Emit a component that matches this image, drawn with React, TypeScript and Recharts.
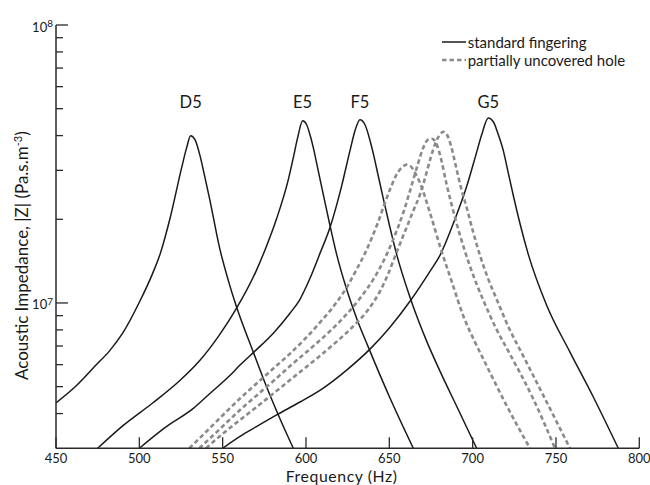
import React from 'react';
import { LineChart, Line, XAxis, YAxis, ReferenceDot, Legend } from 'recharts';

const FONT = 'Lato, "Open Sans", sans-serif';
const INK = '#1a1a1a';
const AXIS = '#2a2a2a';
const DASH_GREY = '#8a8a8a';

// ---- axes ----
const freqTicks = [450, 500, 550, 600, 650, 700, 750, 800];
const impedanceTicks = [4e6, 5e6, 6e6, 7e6, 8e6, 9e6, 1e7, 2e7, 3e7, 4e7, 5e7, 6e7, 7e7, 8e7, 9e7, 1e8];
const labelledTicks = [1e7, 1e8];

// ---- note labels ----
const noteNames = ['D5', 'E5', 'F5', 'G5'];
const noteLabelZ = 5.3e7;

// ---- legend ----
const legendLabels = ['standard fingering', 'partially uncovered hole'];

// ---- standard fingering curves (frequency Hz, |Z| Pa.s.m^-3) ----
const d5Freq = [450, 462, 474, 482, 490, 500, 508, 512.6, 518.4, 525.4, 528.4, 530.8, 533.4, 536.4, 539.4, 542.4, 548.1, 553.2, 558, 568.4, 576.4, 583.4, 592.4];
const d5Z = [4.37e6, 5.025e6, 5.977e6, 6.709e6, 7.786e6, 1.0058e7, 1.278e7, 1.508e7, 2.013e7, 3.068e7, 3.621e7, 3.997e7, 3.867e7, 3.388e7, 2.825e7, 2.336e7, 1.584e7, 1.216e7, 9.812e6, 6.654e6, 4.984e6, 3.955e6, 3.0e6];

const e5Freq = [475, 490, 508, 524, 536, 548, 558, 570, 576, 582.4, 589.4, 592.4, 595, 598, 600.4, 602.4, 604.4, 607.2, 610.4, 614.4, 618.4, 624.4, 630.6, 637.4, 650.4, 664.4];
const e5Z = [3.0e6, 3.611e6, 4.367e6, 5.237e6, 6.178e6, 7.658e6, 9.493e6, 1.2996e7, 1.584e7, 2.013e7, 2.779e7, 3.333e7, 3.932e7, 4.524e7, 4.377e7, 4.03e7, 3.621e7, 3.018e7, 2.455e7, 1.9e7, 1.4955e7, 1.1199e7, 8.741e6, 6.935e6, 4.55e6, 3.0e6];

const f5Freq = [500, 516, 532, 542, 554, 560.4, 570, 580.4, 590.4, 596.4, 602.4, 608.4, 614.4, 621.3, 626.4, 629.4, 632.4, 635.4, 637.8, 640.4, 643.2, 646.4, 650.4, 654.4, 662.4, 672.4, 680.4, 691.2, 702.4];
const f5Z = [3.0e6, 3.581e6, 4.156e6, 4.703e6, 5.458e6, 5.977e6, 6.765e6, 7.786e6, 9.184e6, 1.0311e7, 1.2265e7, 1.508e7, 1.8689e7, 2.6228e7, 3.531e7, 4.166e7, 4.562e7, 4.377e7, 3.965e7, 3.445e7, 2.896e7, 2.375e7, 1.8689e7, 1.4955e7, 1.0482e7, 7.289e6, 5.688e6, 4.156e6, 3.0e6];

const g5Freq = [550, 560.4, 570, 582.4, 596.4, 610.4, 624.4, 638.4, 650.4, 662.4, 674.4, 680.4, 688.4, 696.4, 702, 705.6, 709.4, 712.4, 715.2, 718.4, 721.2, 724.4, 728.4, 733.4, 744.4, 758.4, 772.4, 787.4];
const g5Z = [3.0e6, 3.311e6, 3.581e6, 3.955e6, 4.403e6, 4.943e6, 5.735e6, 6.821e6, 8.18e6, 1.0141e7, 1.2996e7, 1.4835e7, 1.9318e7, 2.6228e7, 3.417e7, 4.064e7, 4.626e7, 4.486e7, 4.064e7, 3.531e7, 2.969e7, 2.435e7, 1.9318e7, 1.4955e7, 9.812e6, 6.654e6, 4.588e6, 3.0e6];

// ---- partially uncovered hole curves ----
const holeAFreq = [530, 539.4, 548.4, 560.4, 570, 580.4, 590.4, 600.4, 609.6, 618.4, 625.2, 630.4, 635.4, 639.6, 643.2, 646.8, 650.4, 654, 657.4, 660.4, 662.4, 665.4, 668.4, 674.4, 680.4, 687.6, 694.4, 701.4, 708.4, 720.4, 734.4];
const holeAZ = [3.0e6, 3.408e6, 3.857e6, 4.532e6, 5.109e6, 5.806e6, 6.572e6, 7.533e6, 8.669e6, 1.0058e7, 1.1574e7, 1.321e7, 1.508e7, 1.7212e7, 1.948e7, 2.242e7, 2.559e7, 2.872e7, 3.068e7, 3.145e7, 3.119e7, 2.944e7, 2.704e7, 2.11e7, 1.6015e7, 1.1866e7, 8.981e6, 7.229e6, 5.942e6, 4.27e6, 3.0e6];

const holeBFreq = [536, 548.4, 560.4, 570, 580.4, 590.4, 604.4, 614.4, 624.4, 632.4, 640.4, 646.4, 651.6, 658.4, 664.4, 667.2, 670.4, 673.2, 675.6, 678, 680.4, 684.4, 689.4, 695.4, 700.8, 706.4, 714, 722.4, 736.4, 749.4];
const holeBZ = [3.0e6, 3.522e6, 4.121e6, 4.627e6, 5.237e6, 5.928e6, 6.993e6, 7.916e6, 9.108e6, 1.0397e7, 1.216e7, 1.4113e7, 1.651e7, 2.1155e7, 2.779e7, 3.171e7, 3.621e7, 3.867e7, 3.899e7, 3.772e7, 3.417e7, 2.667e7, 2.03e7, 1.5326e7, 1.2366e7, 1.0226e7, 8.114e6, 6.545e6, 4.513e6, 3.0e6];

const holeCFreq = [540, 549.6, 560.4, 570, 580.4, 590.4, 606.4, 617.4, 628.4, 636.6, 644.4, 649.2, 653.4, 657, 660.6, 664.2, 668.4, 672, 675, 678, 680.4, 682.4, 684.6, 687, 690.4, 693, 696.4, 700.2, 704.4, 709.2, 714.4, 722.4, 730.4, 744.4, 758.4];
const holeCZ = [3.0e6, 3.366e6, 3.794e6, 4.208e6, 4.723e6, 5.281e6, 6.307e6, 7.169e6, 8.248e6, 9.338e6, 1.1016e7, 1.2673e7, 1.4713e7, 1.6653e7, 1.8845e7, 2.133e7, 2.455e7, 2.896e7, 3.36e7, 3.804e7, 4.03e7, 4.131e7, 4.03e7, 3.681e7, 3.018e7, 2.601e7, 2.205e7, 1.8082e7, 1.4835e7, 1.2265e7, 1.0311e7, 7.981e6, 6.439e6, 4.403e6, 3.0e6];

type Pt = { f: number; z: number };
const zip = (f: number[], z: number[]): Pt[] => f.map((v, i) => ({ f: v, z: z[i] }));

const standardSeries = [zip(d5Freq, d5Z), zip(e5Freq, e5Z), zip(f5Freq, f5Z), zip(g5Freq, g5Z)];
const partialSeries = [zip(holeAFreq, holeAZ), zip(holeBFreq, holeBZ), zip(holeCFreq, holeCZ)];

const peakOf = (pts: Pt[]) => pts.reduce((a, b) => (b.z > a.z ? b : a)).f;

const XTick = (props: any) => {
  const { x, y, payload } = props;
  return (
    <g>
      <line x1={x} x2={x} y1={y} y2={y - 11} stroke={AXIS} strokeWidth={1.3} />
      <text x={x} y={y + 15} textAnchor="middle" fontSize={13} fontFamily={FONT} fill={INK}>
        {payload.value}
      </text>
    </g>
  );
};

const YTick = (props: any) => {
  const { x, y, payload } = props;
  const v = payload.value as number;
  const major = labelledTicks.some((t) => Math.abs(t - v) / t < 1e-6);
  const exp = Math.round(Math.log10(v));
  return (
    <g>
      <line x1={x} x2={x + (major ? 12 : 7)} y1={y} y2={y} stroke={AXIS} strokeWidth={1.3} />
      {major && (
        <text x={x - 3} y={y + 6.5} textAnchor="end" fontSize={13} fontFamily={FONT} fill={INK}>
          10
          <tspan dy={-4.5} fontSize={10}>
            {exp}
          </tspan>
        </text>
      )}
    </g>
  );
};

const XTitle = (props: any) => {
  const vb = props.viewBox || { x: 56, y: 448.3, width: 583.3, height: 36.7 };
  return (
    <text
      x={vb.x + vb.width / 2 - 6}
      y={vb.y + 33.2}
      textAnchor="middle"
      fontSize={15.8}
      letterSpacing={0.6}
      fontFamily={FONT}
      fill={INK}
    >
      Frequency (Hz)
    </text>
  );
};

const YTitle = (props: any) => {
  const vb = props.viewBox || { x: 0, y: 25, width: 56, height: 423.3 };
  const cx = vb.x + 22;
  const cy = vb.y + vb.height / 2 + 19;
  return (
    <text
      x={cx}
      y={cy}
      transform={`rotate(-90, ${cx}, ${cy})`}
      textAnchor="middle"
      dy={6}
      fontSize={17}
      fontFamily={FONT}
      fill={INK}
    >
      Acoustic Impedance, |Z| (Pa.s.m
      <tspan dy={-6} fontSize={11}>
        -3
      </tspan>
      <tspan dy={6}>)</tspan>
    </text>
  );
};

const NoteText = (props: any) => (
  <text x={props.cx} y={props.cy + 6} textAnchor="middle" fontSize={16.5} fontFamily={FONT} fill={INK}>
    {props.name}
  </text>
);

const LegendBox = () => (
  <div style={{ fontFamily: FONT, fontSize: 15, color: INK, lineHeight: '18.3px' }}>
    {legendLabels.map((label, i) => (
      <div key={label} style={{ display: 'flex', alignItems: 'center', height: 18.3, whiteSpace: 'nowrap' }}>
        <svg width={26} height={10} style={{ display: 'block' }}>
          <line
            x1={0}
            x2={24}
            y1={5}
            y2={5}
            stroke={i === 0 ? INK : DASH_GREY}
            strokeWidth={i === 0 ? 1.5 : 2.4}
            strokeDasharray={i === 0 ? undefined : '4.5 3'}
          />
        </svg>
        <span>{label}</span>
      </div>
    ))}
  </div>
);

export default function App() {
  return (
    <div style={{ position: 'absolute', left: 0, top: 0, width: 650, height: 485, background: '#fff' }}>
      <LineChart width={650} height={485} margin={{ top: 25, right: 10.7, bottom: 0, left: 0 }}>
        <XAxis
          type="number"
          dataKey="f"
          domain={[450, 800]}
          ticks={freqTicks}
          allowDataOverflow
          interval={0}
          height={36.7}
          tickSize={0}
          tickMargin={0}
          tickLine={false}
          tick={<XTick />}
          axisLine={{ stroke: AXIS, strokeWidth: 1.5 }}
          label={{ content: XTitle }}
        />
        <YAxis
          type="number"
          scale="log"
          domain={[3e6, 1e8]}
          ticks={impedanceTicks}
          allowDataOverflow
          interval={0}
          width={56}
          tickSize={0}
          tickMargin={0}
          tickLine={false}
          tick={<YTick />}
          axisLine={{ stroke: AXIS, strokeWidth: 1.5 }}
          label={{ content: YTitle }}
        />
        {standardSeries.map((s, i) => (
          <Line
            key={`std-${i}`}
            data={s}
            dataKey="z"
            type="monotone"
            stroke={INK}
            strokeWidth={1.5}
            dot={false}
            activeDot={false}
            isAnimationActive={false}
            legendType="none"
          />
        ))}
        {partialSeries.map((s, i) => (
          <Line
            key={`hole-${i}`}
            data={s}
            dataKey="z"
            type="monotone"
            stroke={DASH_GREY}
            strokeWidth={2.6}
            strokeDasharray="4.5 3"
            dot={false}
            activeDot={false}
            isAnimationActive={false}
            legendType="none"
          />
        ))}
        {noteNames.map((n, i) => (
          <ReferenceDot
            key={n}
            x={peakOf(standardSeries[i])}
            y={noteLabelZ}
            r={0}
            ifOverflow="visible"
            shape={(p: any) => <NoteText {...p} name={n} />}
          />
        ))}
        <Legend
          layout="horizontal"
          verticalAlign="middle"
          align="center"
          wrapperStyle={{ left: 441.7, top: 32.5, width: 200, height: 37 }}
          content={LegendBox}
        />
      </LineChart>
    </div>
  );
}
